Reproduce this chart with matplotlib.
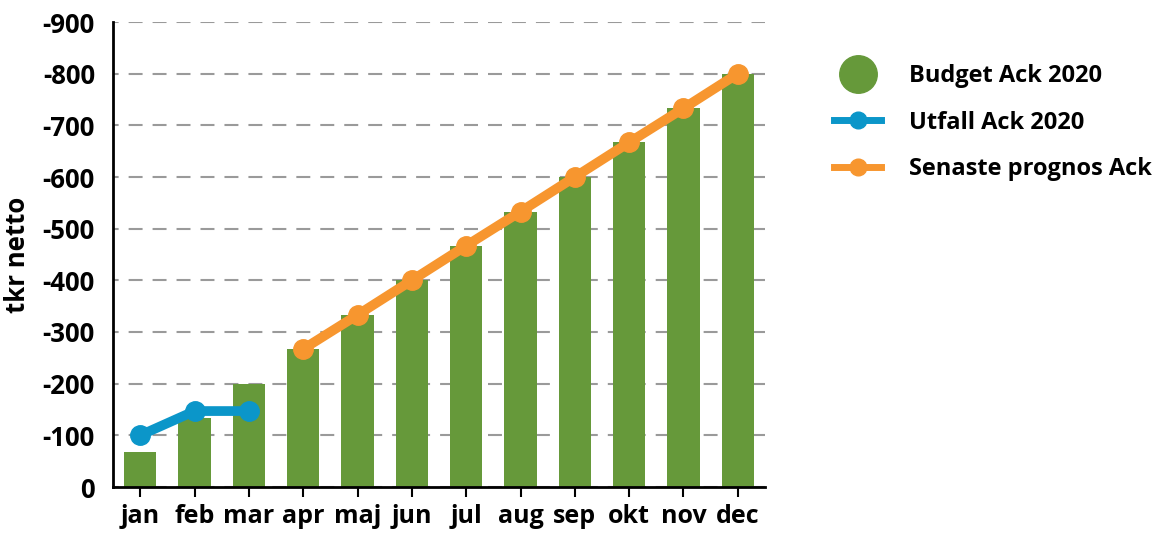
import matplotlib
matplotlib.use("Agg")
import matplotlib.pyplot as plt
from matplotlib.lines import Line2D

months = ["jan", "feb", "mar", "apr", "maj", "jun", "jul", "aug", "sep", "okt", "nov", "dec"]
budget = [-67, -133, -200, -267, -333, -400, -467, -533, -600, -667, -733, -800]
utfall_months = ["jan", "feb", "mar"]
utfall = [-100, -147, -147]
prognos_months = ["apr", "maj", "jun", "jul", "aug", "sep", "okt", "nov", "dec"]
prognos = [-267, -333, -400, -467, -533, -600, -667, -733, -800]
yticks = [0, -100, -200, -300, -400, -500, -600, -700, -800, -900]

GREEN = "#66993a"
BLUE = "#0b96c9"
ORANGE = "#f7962f"

plt.rcParams['font.family'] = ['Open Sans', 'DejaVu Sans']
plt.rcParams['font.weight'] = 'bold'

fig = plt.figure(figsize=(11.69, 5.33), dpi=100)
ax = fig.add_axes([113/1169, 1 - 487/533, (765-113)/1169, (487-22)/533])

x = list(range(len(months)))
ax.bar(x, budget, width=0.59, color=GREEN, zorder=2)
ux = [months.index(m) for m in utfall_months]
px = [months.index(m) for m in prognos_months]
ax.plot(ux, utfall, color=BLUE, lw=7, marker='o', ms=14, zorder=3, solid_capstyle='round')
ax.plot(px, prognos, color=ORANGE, lw=7, marker='o', ms=14, zorder=3, solid_capstyle='round')

ax.set_ylim(0, -900)
ax.set_xlim(-0.5, 11.5)
ax.set_yticks(yticks)
ax.set_yticklabels([str(v) for v in yticks], fontsize=18.5, fontweight='bold')
ax.set_xticks(x)
ax.set_xticklabels(months, fontsize=18, fontweight='bold')
ax.tick_params(axis='y', length=0, pad=13)
ax.tick_params(axis='x', length=7, width=1.5, direction='out', pad=5)
ax.yaxis.grid(True, linestyle=(4, (6.7, 4.8)), color='#9a9a9a', lw=1.5, zorder=0)
ax.set_axisbelow(True)
for s in ['top', 'right']:
    ax.spines[s].set_visible(False)
for s in ['left', 'bottom']:
    ax.spines[s].set_linewidth(2)
ax.set_ylabel("tkr netto", fontsize=18.5, fontweight='bold', labelpad=8)

handles = [
    Line2D([], [], ls='none', marker='o', ms=27, color=GREEN),
    Line2D([], [], color=BLUE, lw=5, marker='o', ms=12),
    Line2D([], [], color=ORANGE, lw=5, marker='o', ms=12),
]
labels = ["Budget Ack 2020", "Utfall Ack 2020", "Senaste prognos Ack"]
leg = fig.legend(handles, labels, loc='upper left', bbox_to_anchor=(813/1169, 1 - 43/533),
                 frameon=False, prop={'weight': 'bold', 'size': 17},
                 handlelength=2.0, labelspacing=0.95, handletextpad=1.15)

fig.savefig("out.png", dpi=100)
